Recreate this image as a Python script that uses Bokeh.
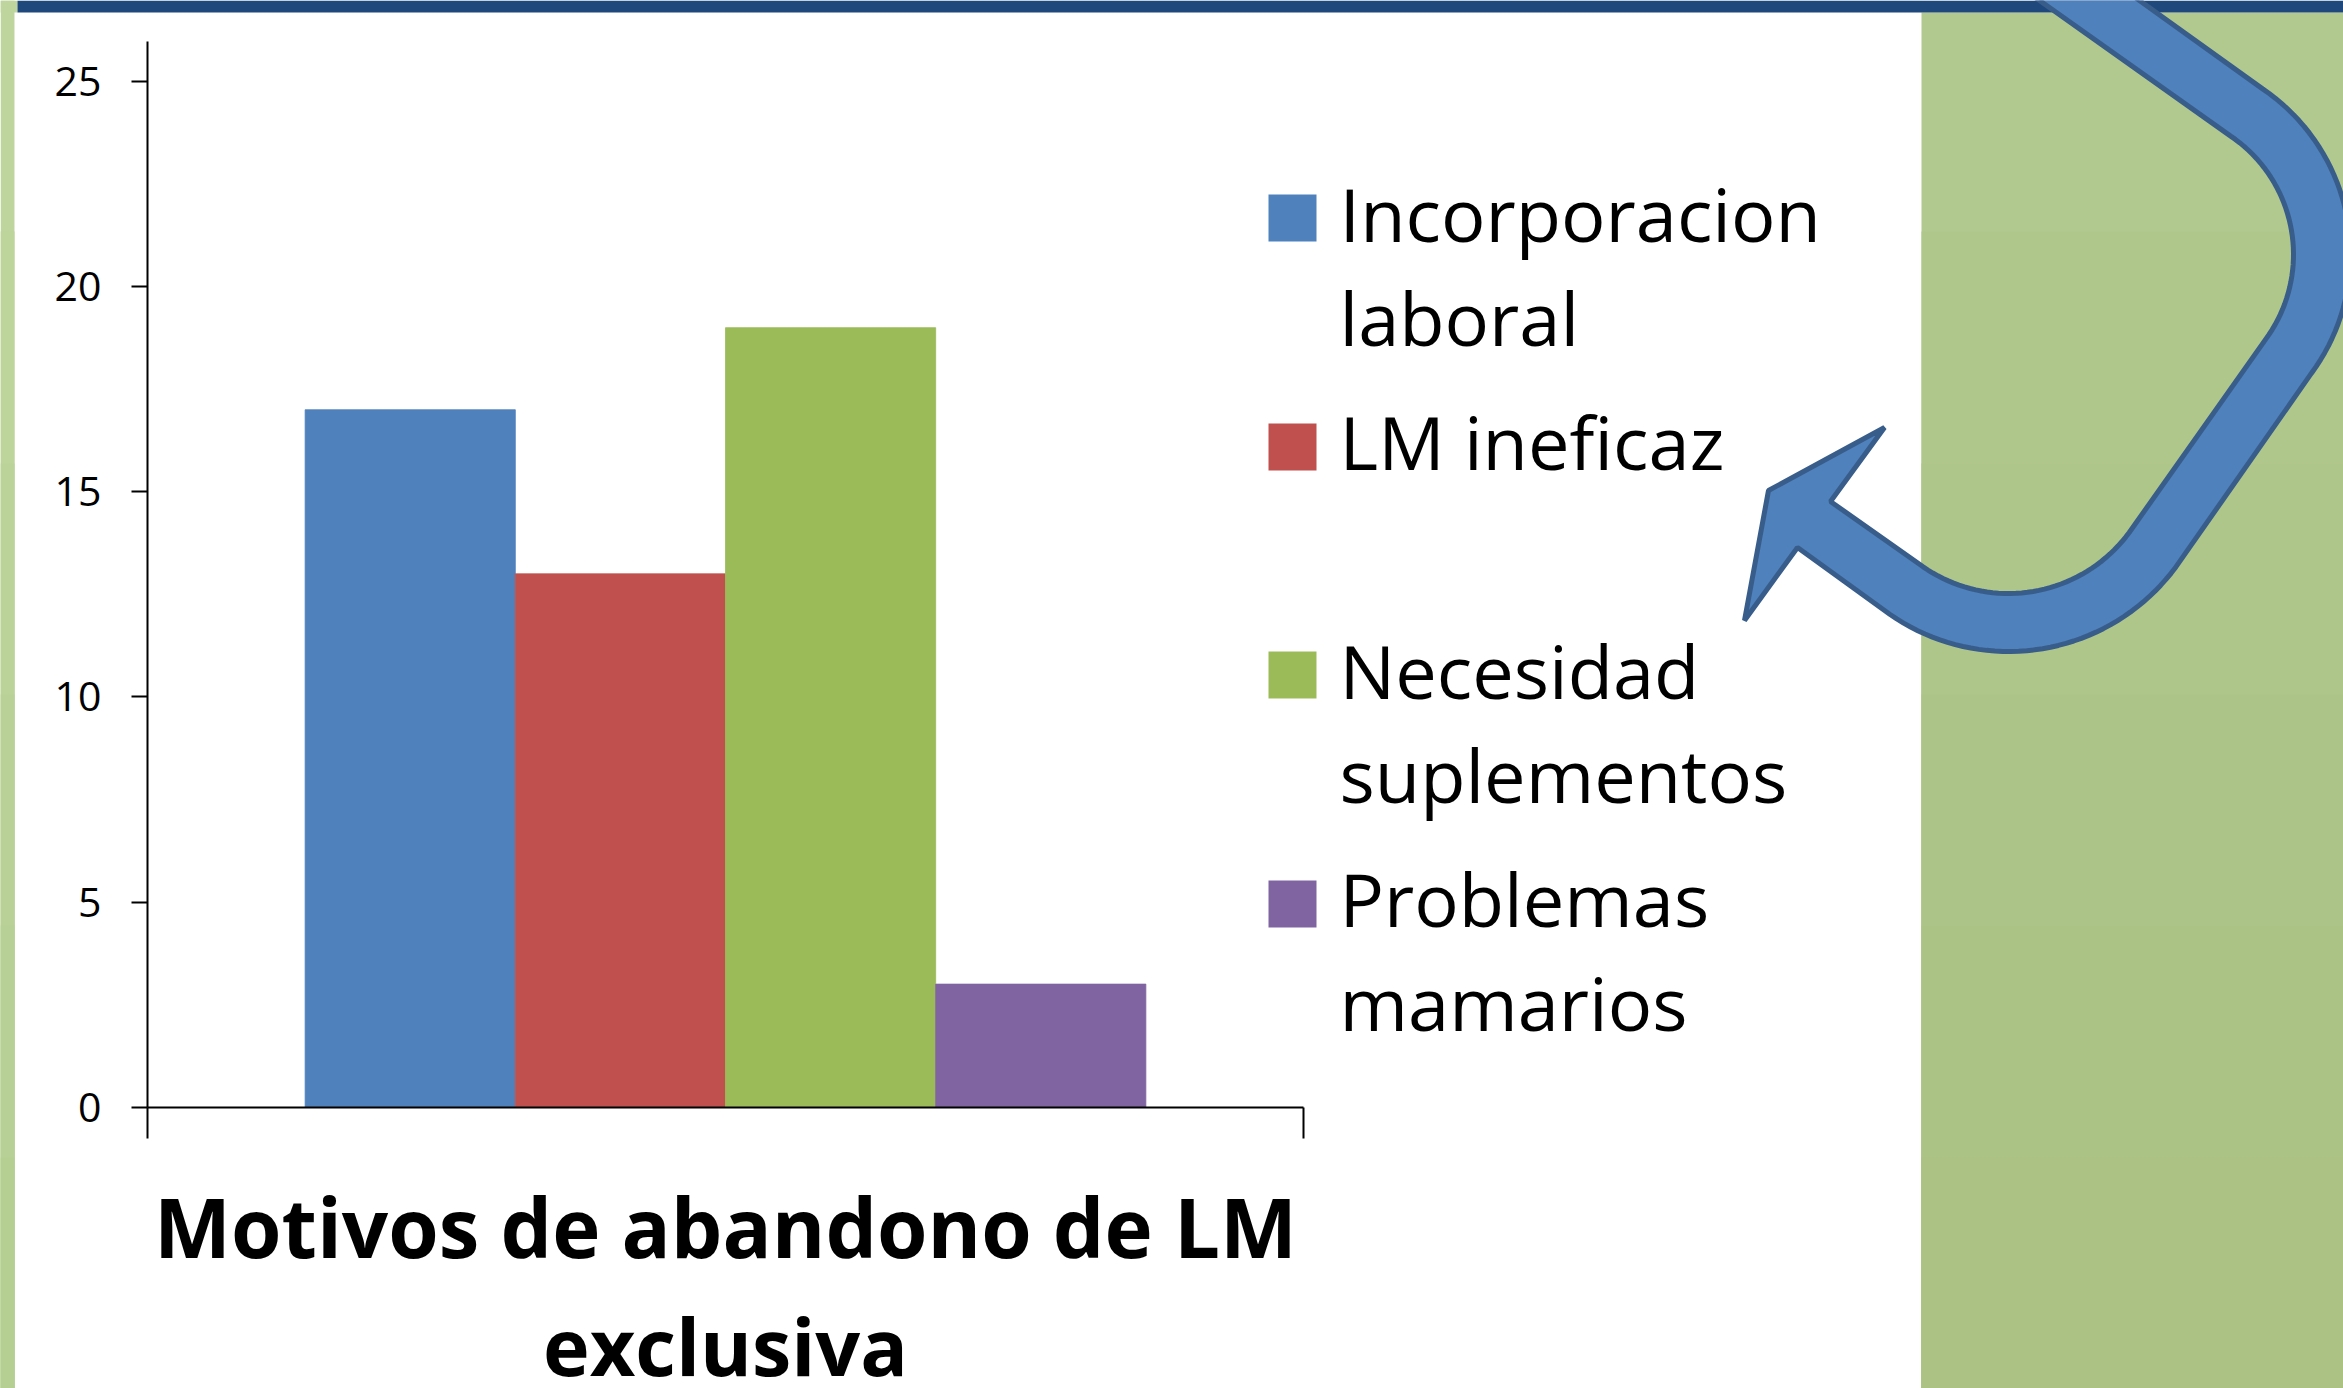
import math
from bokeh.plotting import figure
from bokeh.models import Range1d, FixedTicker, BoxAnnotation, PolyAnnotation, Label, ColumnDataSource
from bokeh.embed import file_html
from bokeh.resources import INLINE

# data
series = ["Incorporacion laboral", "LM ineficaz", "Necesidad suplementos", "Problemas mamarios"]
values = [17, 13, 19, 3]
colors = ["#4F81BD", "#C0504D", "#9BBB59", "#8064A2"]
y_ticks = [0, 5, 10, 15, 20, 25]
legend_lines = [["Incorporacion", "laboral"], ["LM ineficaz"], ["Necesidad", "suplementos"], ["Problemas", "mamarios"]]
title_lines = ["Motivos de abandono de LM", "exclusiva"]

# page geometry (pixels)
W, H = 2343, 1388
L, R, T, B = 147, 1303, 41, 1106.7
PER_UNIT = (B - 81) / 25
YMAX = (B - T) / PER_UNIT

def dx(px):
    return (px - L) / (R - L)

def dy(py):
    return (B - py) / PER_UNIT

FONT = "Open Sans"

p = figure(width=W, height=H, output_backend="svg", toolbar_location=None,
           x_range=Range1d(dx(0), dx(W)), y_range=Range1d(dy(H), dy(0)),
           min_border=0, min_border_left=0, min_border_right=0, min_border_top=0, min_border_bottom=0,
           background_fill_color="white", border_fill_color="white", outline_line_alpha=0,
           styles={"position": "absolute", "left": "0px", "top": "0px"})
p.grid.visible = False

def box(x0, y0, x1, y1, c):
    p.add_layout(BoxAnnotation(left=dx(x0), right=dx(x1), top=dy(y0), bottom=dy(y1),
                               fill_color=c, fill_alpha=1, line_alpha=0, level="underlay"))

# soft vertical shading of the slide's side strip and panel (each band overlaps the next)
strip_shades = ["#BFD59E", "#BDD49B", "#BBD399", "#B9D197", "#B7D095", "#B5CF93"]
panel_shades = ["#B1C88E", "#B0C78C", "#AFC68A", "#ADC488", "#ACC386", "#ABC284"]
for i in range(6):
    y0 = round(H * i / 6)
    box(0, y0, 14, H, strip_shades[i])
    box(1921, max(y0, 12), W, H, panel_shades[i])
box(0, 0, 17, 12, strip_shades[0])
box(17, 0, W, 12, "#1F497D")

# bars
w = 1 / 5.5
src = ColumnDataSource(dict(x=[0.5 + (i - 1.5) * w for i in range(4)], top=values, color=colors, name=series))
p.vbar(x="x", top="top", bottom=0, width=w, fill_color="color", line_color="color", line_width=0.8, source=src)

# axes
yax = p.yaxis[0]
yax.fixed_location = 0
yax.bounds = (0, YMAX)
yax.ticker = FixedTicker(ticks=y_ticks)
yax.major_tick_out = 16
yax.major_tick_in = 0
yax.minor_tick_out = 0
yax.minor_tick_in = 0
yax.axis_line_color = "black"
yax.axis_line_width = 2
yax.major_tick_line_width = 2
yax.major_tick_line_color = "black"
yax.major_label_text_font = FONT
yax.major_label_text_font_size = "41px"
yax.major_label_text_color = "black"
yax.major_label_standoff = 30

xax = p.xaxis[0]
xax.fixed_location = 0
xax.bounds = (0, 1)
xax.ticker = FixedTicker(ticks=[0, 1])
xax.major_label_overrides = {0: " ", 1: " "}
xax.major_tick_out = 31
xax.major_tick_in = 0
xax.minor_tick_out = 0
xax.minor_tick_in = 0
xax.axis_line_color = "black"
xax.axis_line_width = 2
xax.major_tick_line_width = 2
xax.major_tick_line_color = "black"

# legend
swatch_top = [194, 423, 651, 880]
baselines = [[213, 317], [441], [670, 774], [898, 1002]]
for i in range(4):
    box(1268, swatch_top[i], 1316, swatch_top[i] + 47, colors[i])
    for t, b in zip(legend_lines[i], baselines[i]):
        p.add_layout(Label(x=dx(1339), y=dy(b), text=t, text_font=FONT, text_font_size="74px",
                           text_color="black", text_align="left", text_baseline="alphabetic"))

# title
for t, size, b in zip(title_lines, ["81.6px", "79px"], [1226, 1345]):
    p.add_layout(Label(x=dx(725), y=dy(b), text=t, text_font=FONT, text_font_style="bold",
                       text_font_size=size, text_color="black", text_align="center",
                       text_baseline="alphabetic"))

# curved arrow
def arc(cx, cy, r, a0, a1, n=40):
    return [(cx + r * math.cos(math.radians(a0 + (a1 - a0) * k / n)),
             cy + r * math.sin(math.radians(a0 + (a1 - a0) * k / n))) for k in range(n + 1)]

C1, C2 = (2150, 254), (2008, 443)
A0, A1, A2 = -55.9, 36.4, 124.7
pts = [(2132, -5)] + arc(*C1, 200, A0, A1) + arc(*C2, 208, A1, A2)
pts += [(1797, 547), (1744, 620), (1768, 490), (1884, 427), (1830, 501)]
pts += arc(*C2, 150, A2, A1) + arc(*C1, 143, A1, A0) + [(2032, -5)]
p.add_layout(PolyAnnotation(xs=[dx(a) for a, _ in pts], ys=[dy(b) for _, b in pts],
                            fill_color="#4F81BD", fill_alpha=1, line_color="#385D8A", line_width=5,
                            line_alpha=1, level="overlay"))

open("out.html", "w").write(file_html(p, INLINE))
